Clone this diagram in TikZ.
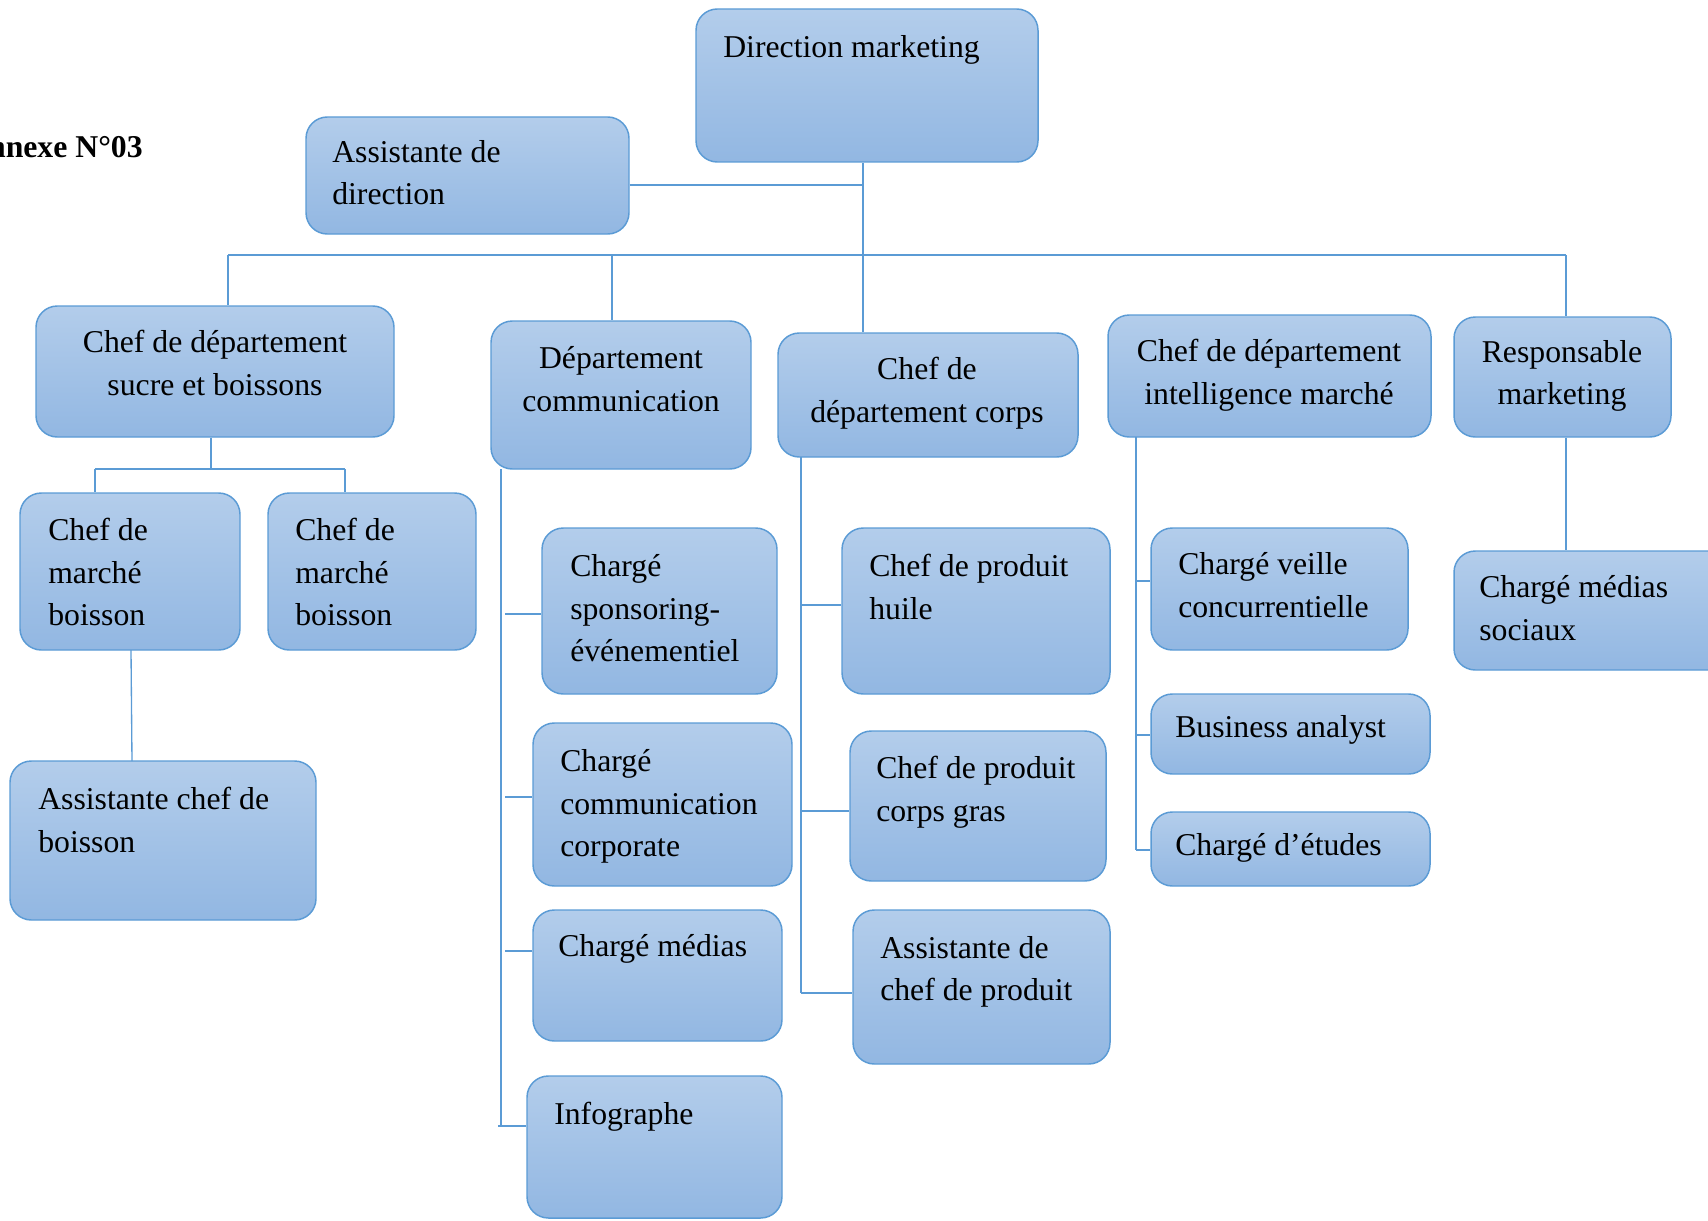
\documentclass[tikz,border=0pt]{standalone}
\usepackage{fontspec}
\setmainfont{Liberation Serif}
\usetikzlibrary{fit}

\definecolor{boxtop}{HTML}{B3CDEB}
\definecolor{boxbot}{HTML}{92B7E2}
\definecolor{boxline}{HTML}{5B9BD5}

\tikzset{
  orgbox/.style={draw=boxline, line width=1.1pt, top color=boxtop, bottom color=boxbot,
                 rounded corners=16pt, inner sep=0pt},
  lbl/.style={font=\fontsize{23.8}{32}\selectfont, inner sep=0pt, align=left,
              execute at begin node=\strut},
  clbl/.style={lbl, align=center, anchor=north},
  llbl/.style={lbl, anchor=north west}
}
\tikzset{conn/.style={draw=boxline, line width=1pt}}

% box: name, x1, y1, x2, y2 (pixel grid, y downwards)
\newcommand\orgbox[5]{\node[orgbox, fit={(#2,#3) (#4,#5)}] (#1) {};}

\begin{document}
\begin{tikzpicture}[x=0.75pt, y=-0.75pt]
\useasboundingbox (0,0) rectangle (1708,1220);

% title
\node[font=\fontsize{23.8}{32}\selectfont\bfseries, anchor=base east, inner sep=0pt]
  (annexe) at (143,157) {Annexe N°03};

% top level
\orgbox{dir}{696}{9}{1038}{162}
\orgbox{asd}{306}{117}{629}{234}

% departments
\orgbox{sucre}{36}{306}{394}{437}
\orgbox{com}{491}{321}{751}{469}
\orgbox{corps}{778}{333}{1078}{457}
\orgbox{intel}{1108}{315}{1431}{437}
\orgbox{resp}{1454}{317}{1671}{437}

% sucre et boissons
\orgbox{cmA}{20}{493}{240}{650}
\orgbox{cmB}{268}{493}{476}{650}
\orgbox{acb}{10}{761}{316}{920}

% communication
\orgbox{spon}{542}{528}{777}{694}
\orgbox{ccc}{533}{723}{792}{886}
\orgbox{cmed}{533}{910}{782}{1041}
\orgbox{info}{527}{1076}{782}{1218}

% corps
\orgbox{huile}{842}{528}{1110}{694}
\orgbox{gras}{850}{731}{1106}{881}
\orgbox{acp}{853}{910}{1110}{1064}

% intelligence marche
\orgbox{veille}{1151}{528}{1408}{650}
\orgbox{ba}{1151}{694}{1430}{774}
\orgbox{etu}{1151}{812}{1430}{886}

% responsable marketing
\orgbox{cms}{1454}{551}{1740}{670}

% labels
\node[llbl] (dir-t) at (723,27) {Direction marketing};
\node[llbl] (asd-t) at (332,140) {Assistante de\\direction};
\node[clbl] (sucre-t) at (215,330) {Chef de département\\sucre et boissons};
\node[clbl] (com-t) at (621,346) {Département\\communication};
\node[clbl] (corps-t) at (927,357) {Chef de\\département corps};
\node[clbl] (intel-t) at (1269,339) {Chef de département\\intelligence marché};
\node[clbl] (resp-t) at (1562,340) {Responsable\\marketing};
\node[llbl] (cmA-t) at (48,518) {Chef de\\marché\\boisson};
\node[llbl] (cmB-t) at (295,518) {Chef de\\marché\\boisson};
\node[llbl] (acb-t) at (38,787) {Assistante chef de\\boisson};
\node[llbl] (spon-t) at (570,554) {Chargé\\sponsoring-\\événementiel};
\node[llbl] (ccc-t) at (560,749) {Chargé\\communication\\corporate};
\node[llbl] (cmed-t) at (558,926) {Chargé médias};
\node[llbl] (info-t) at (554,1094) {Infographe};
\node[llbl] (huile-t) at (869,554) {Chef de produit\\huile};
\node[llbl] (gras-t) at (876,756) {Chef de produit\\corps gras};
\node[llbl] (acp-t) at (880,936) {Assistante de\\chef de produit};
\node[llbl] (veille-t) at (1178,552) {Chargé veille\\concurrentielle};
\node[llbl] (ba-t) at (1175,707) {Business analyst};
\node[llbl] (etu-t) at (1175,825) {Chargé d’études};
\node[llbl] (cms-t) at (1479,575) {Chargé médias\\sociaux};

% junction points
\coordinate (busL) at (228,255);
\coordinate (busC) at (612,255);
\coordinate (busR) at (1566,255);
\coordinate (mid) at (863,185);
\coordinate (sucreJ) at (211,469);
\coordinate (cmAJ) at (95,469);
\coordinate (cmBJ) at (345,469);
\coordinate (comTop) at (501,469);
\coordinate (comBot) at (501,1126);
\coordinate (comTick) at (505,0);
\coordinate (corpsTop) at (801,457);
\coordinate (corpsBot) at (801,993);
\coordinate (intelTop) at (1136,437);
\coordinate (intelBot) at (1136,850);
\coordinate (acbTop) at (132,761);

% direction and assistant
\draw[conn] (mid |- dir.south) -- (mid |- corps.north);
\draw[conn] (asd.east |- mid) -- (mid);

% main bus and drops
\draw[conn] (busL) -- (busR);
\draw[conn] (busL) -- (busL |- sucre.north);
\draw[conn] (busC) -- (busC |- com.north);
\draw[conn] (busR) -- (busR |- resp.north);

% sucre et boissons
\draw[conn] (sucreJ |- sucre.south) -- (sucreJ);
\draw[conn] (cmAJ) -- (cmBJ);
\draw[conn] (cmAJ) -- (cmAJ |- cmA.north);
\draw[conn] (cmBJ) -- (cmBJ |- cmB.north);
\draw[conn] (131,650) -- (acbTop);

% communication
\draw[conn] (comTop) -- (comBot);
\draw[conn] (comTick |- 0,614) -- (spon.west |- 0,614);
\draw[conn] (comTick |- 0,797) -- (ccc.west |- 0,797);
\draw[conn] (comTick |- 0,951) -- (cmed.west |- 0,951);
\draw[conn] (498,1126) -- (info.west |- 0,1126);

% corps
\draw[conn] (corpsTop) -- (corpsBot);
\draw[conn] (corpsTop |- 0,605) -- (huile.west |- 0,605);
\draw[conn] (corpsTop |- 0,811) -- (gras.west |- 0,811);
\draw[conn] (corpsBot) -- (acp.west |- corpsBot);

% intelligence marche
\draw[conn] (intelTop) -- (intelBot);
\draw[conn] (intelTop |- 0,581) -- (veille.west |- 0,581);
\draw[conn] (intelTop |- 0,735) -- (ba.west |- 0,735);
\draw[conn] (intelBot) -- (etu.west |- intelBot);

% responsable marketing
\draw[conn] (busR |- resp.south) -- (busR |- cms.north);
\end{tikzpicture}
\end{document}
